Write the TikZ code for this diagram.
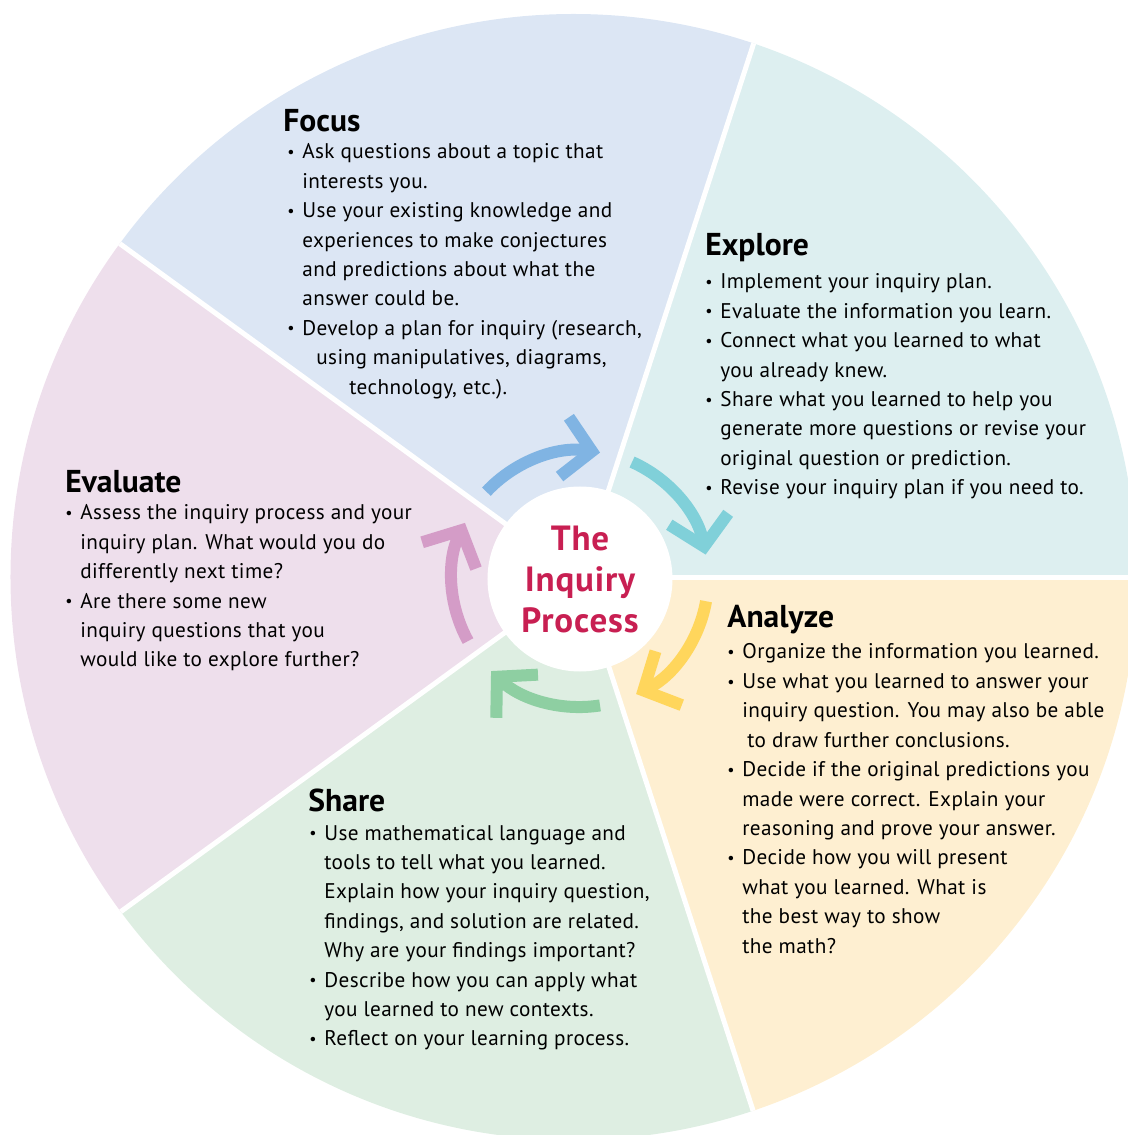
\documentclass[tikz,border=0pt]{standalone}
\usepackage{fontspec}
\setmainfont{PT Sans}
\usetikzlibrary{arrows.meta}

\definecolor{focusbg}{HTML}{DCE6F4}
\definecolor{explorebg}{HTML}{DDEFF0}
\definecolor{analyzebg}{HTML}{FEEFD1}
\definecolor{sharebg}{HTML}{DEEEE2}
\definecolor{evaluatebg}{HTML}{EEDFEC}
\definecolor{focusarr}{HTML}{80B4E3}
\definecolor{explorearr}{HTML}{80D0D9}
\definecolor{analyzearr}{HTML}{FFD65C}
\definecolor{sharearr}{HTML}{8ECFA2}
\definecolor{evaluatearr}{HTML}{D49CC7}
\definecolor{hubred}{HTML}{C81F52}

\newcommand{\bitem}{\makebox[7.5pt][l]{\raisebox{0.7pt}{\fontsize{8}{8}\selectfont\textbullet}}}
\newcommand{\bcont}{\hspace*{7.5pt}}

\begin{document}
\begin{tikzpicture}[x=0.5pt,y=0.5pt]
\tikzset{
  head/.style={anchor=base west,inner sep=0,font=\bfseries\fontsize{15.8}{18}\selectfont},
  body/.style={anchor=base west,inner sep=0,font=\addfontfeature{LetterSpace=1.8}\fontsize{10.6}{14.7}\selectfont},
  hub/.style={circle,fill=white,minimum size=92.5pt,inner sep=0,align=center,text=hubred,
    font=\addfontfeature{LetterSpace=2.5}\bfseries\fontsize{17.5}{20.5}\selectfont},
  cyc/.style={line width=6pt,-{Straight Barb[length=14pt,width=30pt,sharp]}},
  gap/.style={white,line width=2.5pt}
}
\useasboundingbox (-580,-557) rectangle (548,578);
% wheel: five wedges cut to the outer disc
\begin{scope}
\clip (-6.5,1) circle (563);
\foreach \a/\c in {72/focusbg,0/explorebg,-72/analyzebg,-144/sharebg,144/evaluatebg}
  {\fill[\c] (0,0) -- (\a:800) arc[start angle=\a,delta angle=72,radius=800] -- cycle;}
\foreach \a in {0,72,...,288}{\draw[gap] (0,0) -- (\a:800);}
\end{scope}

\node[hub] (hub) at (0,-1) {The\\Inquiry\\Process};
\foreach \s/\e/\c in {137/81/focusarr,66/11/explorearr,-10/-64/analyzearr,-81/-134/sharearr,209/154/evaluatearr}
  {\draw[cyc,\c] ([shift={(\s:128)}]hub.center) arc[start angle=\s,end angle=\e,radius=128];}

\node[head] (focus) at (-297,446) {Focus};
\node[body] (focustext) at (-293,419) {\begin{tabular}[t]{@{}l@{}}
\bitem Ask questions about a topic that\\
\bcont interests you.\\
\bitem Use your existing knowledge and\\
\bcont experiences to make conjectures\\
\bcont and predictions about what the\\
\bcont answer could be.\\
\bitem Develop a plan for inquiry (research,\\
\bcont\hspace*{7pt}using manipulatives, diagrams,\\
\bcont\hspace*{23.5pt}technology, etc.).
\end{tabular}};

\node[head] (explore) at (125,322) {Explore};
\node[body] (exploretext) at (125,289) {\begin{tabular}[t]{@{}l@{}}
\bitem Implement your inquiry plan.\\
\bitem Evaluate the information you learn.\\
\bitem Connect what you learned to what\\
\bcont you already knew.\\
\bitem Share what you learned to help you\\
\bcont generate more questions or revise your\\
\bcont original question or prediction.\\
\bitem Revise your inquiry plan if you need to.
\end{tabular}};

\node[head] (analyze) at (147,-49) {Analyze};
\node[body] (analyzetext) at (147,-81) {\begin{tabular}[t]{@{}l@{}}
\bitem Organize the information you learned.\\
\bitem Use what you learned to answer your\\
\bcont inquiry question. You may also be able\\
\bcont\hspace*{2.5pt}to draw further conclusions.\\
\bitem Decide if the original predictions you\\
\bcont made were correct. Explain your\\
\bcont reasoning and prove your answer.\\
\bitem Decide how you will present\\
\bcont what you learned. What is\\
\bcont the best way to show\\
\bcont the math?
\end{tabular}};

\node[head] (share) at (-272,-233) {Share};
\node[body] (sharetext) at (-271,-262) {\begin{tabular}[t]{@{}l@{}}
\bitem Use mathematical language and\\
\bcont tools to tell what you learned.\\
\bcont Explain how your inquiry question,\\
\bcont findings, and solution are related.\\
\bcont Why are your findings important?\\
\bitem Describe how you can apply what\\
\bcont you learned to new contexts.\\
\bitem Reflect on your learning process.
\end{tabular}};

\node[head] (evaluate) at (-515,85) {Evaluate};
\node[body] (evaluatetext) at (-515,58) {\begin{tabular}[t]{@{}l@{}}
\bitem Assess the inquiry process and your\\
\bcont inquiry plan. What would you do\\
\bcont differently next time?\\
\bitem Are there some new\\
\bcont inquiry questions that you\\
\bcont would like to explore further?
\end{tabular}};
\end{tikzpicture}
\end{document}
